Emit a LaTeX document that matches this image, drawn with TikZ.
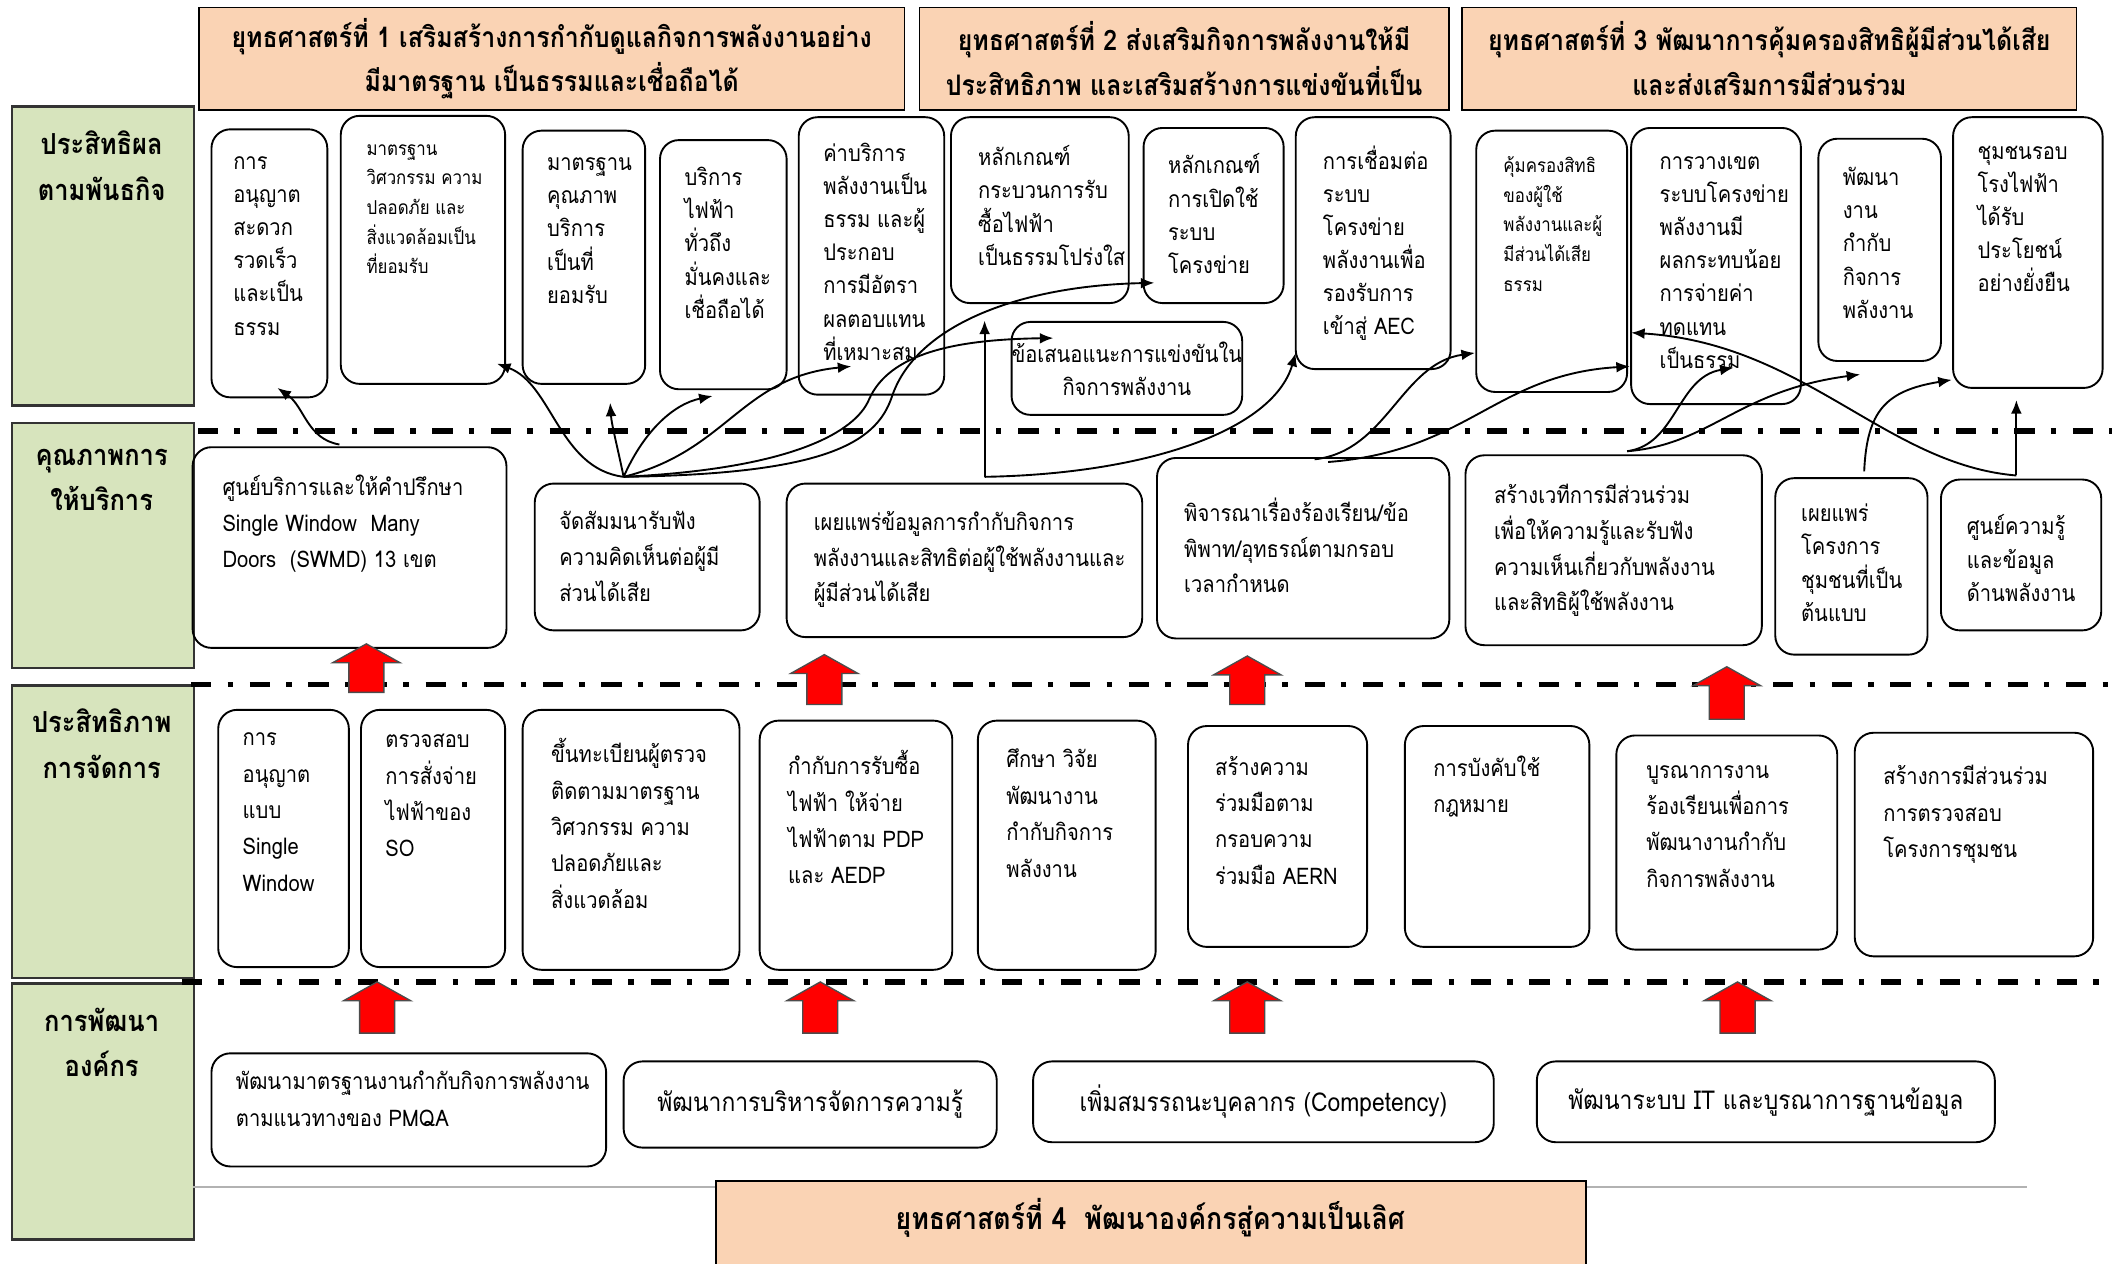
\documentclass[tikz,border=0pt]{standalone}
\usepackage{fontspec}
\setmainfont[Script=Thai,FakeStretch=0.88]{Loma}
\usetikzlibrary{arrows.meta}
\definecolor{peach}{HTML}{FAD3B4}
\definecolor{sage}{HTML}{D7E4BD}
\tikzset{
  cell/.style={draw, rounded corners=14pt, line width=1.4pt, anchor=north west, inner sep=0pt, outer sep=0pt},
  txt/.style={anchor=north west, inner sep=0pt, align=left, execute at begin node=\strut},
  head/.style={draw, fill=peach, line width=1.2pt, anchor=north west, inner sep=0pt, align=center, font=\bfseries\fontsize{21}{33}\selectfont},
  side/.style={draw=black!80, fill=sage, line width=2pt, anchor=north west, minimum width=135, inner sep=0pt},
  sidetxt/.style={anchor=north, inner sep=0pt, align=center, font=\bfseries\fontsize{21.5}{34}\selectfont, execute at begin node=\strut},
  sepline/.style={line width=4pt, dash pattern=on 15pt off 12pt on 4pt off 12.5pt},
  link/.style={-{Latex[length=10pt,width=8pt]}, line width=1.4pt},
  uparrow/.style={fill=red, draw=black!70, line width=1pt}
}
\begin{document}
\begin{tikzpicture}[x=1pt,y=-1pt]
\useasboundingbox (0,0) rectangle (1568,938);
% strategy headers
\node[head, minimum width=524, minimum height=76] (s1) at (147,5) {ยุทธศาสตร์ที่ 1 เสริมสร้างการกำกับดูแลกิจการพลังงานอย่าง\\มีมาตรฐาน เป็นธรรมและเชื่อถือได้};
\node[head, minimum width=393, minimum height=76] (s2) at (682,5) {ยุทธศาสตร์ที่ 2 ส่งเสริมกิจการพลังงานให้มี\\ประสิทธิภาพ และเสริมสร้างการแข่งขันที่เป็น};
\node[head, minimum width=456, minimum height=76] (s3) at (1085,5) {ยุทธศาสตร์ที่ 3 พัฒนาการคุ้มครองสิทธิผู้มีส่วนได้เสีย\\และส่งเสริมการมีส่วนร่วม};
% side labels
\foreach \n/\y/\h/\ty/\lbl in {l1/78/222/97/{ประสิทธิผล\\ตามพันธกิจ}, l2/313/182/333/{คุณภาพการ\\ให้บริการ},
  l3/508/217/526/{ประสิทธิภาพ\\การจัดการ}, l4/729/190/748/{การพัฒนา\\องค์กร}}{
  \node[side, minimum height=\h] (\n) at (8,\y) {};
  \node[sidetxt] (\n-t) at (75.5,\ty) {\lbl};
}
% dividers
\draw[sepline] (147,320) -- (1568,320);
\draw[sepline] (142,508) -- (1568,508);
\draw[sepline] (135,729) -- (1568,729);
% boxes
\foreach \n/\x/\y/\w/\h in {b1a/157/96/86/199, b1b/253/86/122/199, b1c/388/97/91/188, b1d/490/104/94/185,
  b1e/593/87/108/206, b1f/706/87/132/138, b1g/849/95/104/130, b1i/962/87/115/187, b1j/1096/97/112/194,
  b1k/1211/95/126/205, b1l/1350/103/91/165, b1m/1450/87/111/201,
  b2a/143/332/233/149, b2b/397/359/167/109, b2c/584/359/264/114, b2d/859/340/217/134,
  b2e/1088/338/220/141, b2f/1318/355/113/131, b2g/1441/356/119/112,
  b3a/162/527/97/191, b3b/268/527/107/191, b3c/388/527/161/193, b3d/564/535/143/185, b3e/726/535/132/185,
  b3f/882/539/133/164, b3g/1043/539/137/164, b3h/1200/546/164/159, b3i/1377/544/177/166,
  b4a/157/782/293/84}
  \node[cell, minimum width=\w, minimum height=\h] (\n) at (\x,\y) {};
\foreach \n/\dx/\dy/\fs/\bs/\lbl in {
  b1a/16/20/17/24.6/{การ\\อนุญาต\\สะดวก\\รวดเร็ว\\และเป็น\\ธรรม},
  b1b/19/21/14.2/22/{มาตรฐาน\\วิศวกรรม ความ\\ปลอดภัย และ\\สิ่งแวดล้อมเป็น\\ที่ยอมรับ},
  b1c/18/20/17/24.6/{มาตรฐาน\\คุณภาพ\\บริการ\\เป็นที่\\ยอมรับ},
  b1d/18/20/17/24.6/{บริการ\\ไฟฟ้า\\ทั่วถึง\\มั่นคงและ\\เชื่อถือได้},
  b1e/18/19/17/24.6/{ค่าบริการ\\พลังงานเป็น\\ธรรม และผู้\\ประกอบ\\การมีอัตรา\\ผลตอบแทน\\ที่เหมาะสม},
  b1f/20/21/17/24.6/{หลักเกณฑ์\\กระบวนการรับ\\ซื้อไฟฟ้า\\เป็นธรรมโปร่งใส},
  b1g/18/19/17/24.6/{หลักเกณฑ์\\การเปิดใช้\\ระบบ\\โครงข่าย},
  b1i/20/21/17/24.6/{การเชื่อมต่อ\\ระบบ\\โครงข่าย\\พลังงานเพื่อ\\รองรับการ\\เข้าสู่ AEC},
  b1j/20/19/14.2/22/{คุ้มครองสิทธิ\\ของผู้ใช้\\พลังงานและผู้\\มีส่วนได้เสีย\\ธรรม},
  b1k/21/21/17/24.6/{การวางเขต\\ระบบโครงข่าย\\พลังงานมี\\ผลกระทบน้อย\\การจ่ายค่า\\ทดแทน\\เป็นธรรม},
  b1l/18/21/17/24.6/{พัฒนา\\งาน\\กำกับ\\กิจการ\\พลังงาน},
  b1m/18/21/17/24.6/{ชุมชนรอบ\\โรงไฟฟ้า\\ได้รับ\\ประโยชน์\\อย่างยั่งยืน},
  b2a/22/20.5/17/26.5/{ศูนย์บริการและให้คำปรึกษา\\Single Window~ Many\\Doors~ (SWMD) 13 เขต},
  b2b/18/20.5/17/26.5/{จัดสัมมนารับฟัง\\ความคิดเห็นต่อผู้มี\\ส่วนได้เสีย},
  b2c/20/20.5/17/26.5/{เผยแพร่ข้อมูลการกำกับกิจการ\\พลังงานและสิทธิต่อผู้ใช้พลังงานและ\\ผู้มีส่วนได้เสีย},
  b2d/20/29.5/17/26.5/{พิจารณาเรื่องร้องเรียน/ข้อ\\พิพาท/อุทธรณ์ตามกรอบ\\เวลากำหนด},
  b2e/21/21.5/17/26.5/{สร้างเวทีการมีส่วนร่วม\\เพื่อให้ความรู้และรับฟัง\\ความเห็นเกี่ยวกับพลังงาน\\และสิทธิผู้ใช้พลังงาน},
  b2f/19/19/17/24.6/{เผยแพร่\\โครงการ\\ชุมชนที่เป็น\\ต้นแบบ},
  b2g/19/26/17/24.6/{ศูนย์ความรู้\\และข้อมูล\\ด้านพลังงาน},
  b3a/18/17/17/27/{การ\\อนุญาต\\แบบ\\Single\\Window},
  b3b/18/18/17/27/{ตรวจสอบ\\การสั่งจ่าย\\ไฟฟ้าของ\\SO},
  b3c/21/21/17/27/{ขึ้นทะเบียนผู้ตรวจ\\ติดตามมาตรฐาน\\วิศวกรรม ความ\\ปลอดภัยและ\\สิ่งแวดล้อม},
  b3d/21/22/17/27/{กำกับการรับซื้อ\\ไฟฟ้า ให้จ่าย\\ไฟฟ้าตาม PDP\\และ AEDP},
  b3e/21/21/17/27/{ศึกษา วิจัย\\พัฒนางาน\\กำกับกิจการ\\พลังงาน},
  b3f/20/22/17/27/{สร้างความ\\ร่วมมือตาม\\กรอบความ\\ร่วมมือ AERN},
  b3g/21/22/17/27/{การบังคับใช้\\กฎหมาย},
  b3h/22/22/17/27/{บูรณาการงาน\\ร้องเรียนเพื่อการ\\พัฒนางานกำกับ\\กิจการพลังงาน},
  b3i/21/24/17/27/{สร้างการมีส่วนร่วม\\การตรวจสอบ\\โครงการชุมชน},
  b4a/18/13/17/27/{พัฒนามาตรฐานงานกำกับกิจการพลังงาน\\ตามแนวทางของ PMQA}}
  \node[txt, font=\fontsize{\fs}{\bs}\selectfont] (\n-t) at ([shift={(\dx,\dy)}]\n.north west) {\lbl};
\node[cell, minimum width=170, minimum height=69, align=center, font=\fontsize{17}{24.6}\selectfont] (b1h) at (751,239) {ข้อเสนอแนะการแข่งขันใน\\กิจการพลังงาน};
\node[cell, minimum width=277, minimum height=64, font=\fontsize{19.3}{27}\selectfont] (b4b) at (463,788) {พัฒนาการบริหารจัดการความรู้};
\node[cell, minimum width=342, minimum height=60, font=\fontsize{19.3}{27}\selectfont] (b4c) at (767,788) {เพิ่มสมรรถนะบุคลากร (Competency)};
\node[cell, minimum width=340, minimum height=60, font=\fontsize{19.3}{27}\selectfont] (b4d) at (1141,788) {พัฒนาระบบ IT และบูรณาการฐานข้อมูล};
% strategy 4
\draw[gray!60, line width=1.5pt] (143,881) -- (1505,881);
\node[head, minimum width=646, minimum height=70] (s4) at (531,876) {};
\node[inner sep=0pt, font=\bfseries\fontsize{22.5}{33}\selectfont] (s4-t) at (854,904) {ยุทธศาสตร์ที่ 4~ พัฒนาองค์กรสู่ความเป็นเลิศ};
% red arrows
\foreach \x/\yt/\yb in {272/478/514, 612/486/523, 926/487/523, 1282/495/534, 280/729/767, 609/729/767, 926/729/767, 1290/729/767}
  \filldraw[uparrow] (\x,\yt) -- (\x+25,\yt+14) -- (\x+13,\yt+14) -- (\x+13,\yb) -- (\x-13,\yb) -- (\x-13,\yt+14) -- (\x-25,\yt+14) -- cycle;
% connector ends
\coordinate (p1s) at (252,330); \coordinate (p1e) at (206,288);
\coordinate (hub) at (463,354);
\coordinate (c2) at (369,270); \coordinate (c3) at (453,299); \coordinate (c4) at (529,294);
\coordinate (c5) at (632,272); \coordinate (c6) at (782,251); \coordinate (c7) at (857,210);
\coordinate (q) at (731,354); \coordinate (q2) at (731,238); \coordinate (c8) at (962,262);
\coordinate (r1) at (976,341); \coordinate (c9) at (1095,262);
\coordinate (r2) at (986,343); \coordinate (c10) at (1210,272);
\coordinate (s) at (1208,335); \coordinate (c11) at (1287,273); \coordinate (c12) at (1381,278);
\coordinate (t) at (1384,350); \coordinate (c13) at (1449,282);
\coordinate (u) at (1497,353); \coordinate (c14) at (1211,247); \coordinate (c15) at (1497,297);
% connectors
\draw[link] (p1s) .. controls (228,326) and (226,302) .. (p1e);
\draw[link] (hub) .. controls (415,348) and (410,285) .. (c2);
\draw[link] (hub) .. controls (458,330) and (454,315) .. (c3);
\draw[link] (hub) .. controls (478,320) and (500,300) .. (c4);
\draw[link] (hub) .. controls (540,335) and (550,280) .. (c5);
\draw[link] (hub) .. controls (590,348) and (635,320) .. (645,297) .. controls (660,262) and (710,252) .. (c6);
\draw[link] (hub) .. controls (610,352) and (650,330) .. (662,295) .. controls (680,240) and (760,212) .. (c7);
\draw[link] (q) -- (q2);
\draw[link] (q) .. controls (850,352) and (945,320) .. (c8);
\draw[link] (r1) .. controls (1030,335) and (1040,270) .. (c9);
\draw[link] (r2) .. controls (1090,335) and (1110,278) .. (c10);
\draw[link] (s) .. controls (1245,330) and (1245,280) .. (c11);
\draw[link] (s) .. controls (1270,330) and (1290,290) .. (c12);
\draw[link] (t) .. controls (1386,305) and (1400,290) .. (c13);
\draw[link] (u) .. controls (1400,345) and (1340,255) .. (c14);
\draw[link] (u) -- (c15);
\end{tikzpicture}
\end{document}
